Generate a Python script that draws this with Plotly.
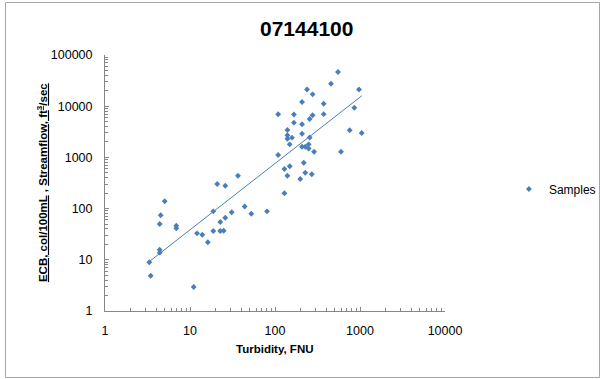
import numpy as np
import plotly.graph_objects as go

# Samples (Turbidity FNU vs ECB col/100mL)
turbidity = [3.32, 3.45, 4.40, 4.40, 4.40, 4.52, 5.04, 6.90, 6.90, 11.05,
             12.1, 13.95, 16.2, 18.8, 18.8, 20.9, 22.7, 22.7, 24.9, 26.0,
             26.0, 30.9, 36.7, 44.0, 52.6, 80.5, 109, 109, 129, 129,
             140, 140, 140, 158.5, 149, 149, 140, 167, 167, 198,
             208, 208, 208, 208, 227, 249, 249, 288, 218, 227,
             271, 238, 277, 256, 277, 256, 374, 374, 456, 551,
             857, 973, 756, 1047, 598]
ecb = [8.94, 4.89, 15.7, 13.8, 50.0, 74.0, 139, 46.4, 41.2, 2.94,
       32.9, 30.9, 22.0, 88.5, 36.5, 302, 54.7, 36.5, 37.0, 280,
       66.4, 84.7, 439, 110, 79.5, 88.5, 6950, 1114, 593, 199,
       3428, 2703, 2318, 2426, 1802, 670, 439, 6886, 4764, 378,
       12080, 4430, 2903, 1618, 1618, 1802, 1493, 1292, 788, 502,
       468, 21200, 17070, 5623, 6640, 2447, 11190, 6980, 27500, 46560,
       9310, 21200, 3398, 2998, 1292]

x_tickvals = [1, 10, 100, 1000, 10000]
x_ticktext = ["1", "10", "100", "1000", "10000"]
y_tickvals = [1, 10, 100, 1000, 10000, 100000]
y_ticktext = ["1", "10", "100", "1000", "10000", "100000"]

# power trendline fitted in log space
lx = np.log10(turbidity)
ly = np.log10(ecb)
b, a = np.polyfit(lx, ly, 1)
trend_x = np.array([min(turbidity), max(turbidity)])
trend_y = 10 ** (a + b * np.log10(trend_x))

blue = "#4a7ebb"
font_family = "Liberation Sans, Arial, sans-serif"

fig = go.Figure()
fig.add_trace(go.Scatter(
    x=turbidity, y=ecb, mode="markers", name="Samples",
    marker=dict(symbol="diamond", size=4.5, color=blue),
))
fig.add_trace(go.Scatter(
    x=trend_x, y=trend_y, mode="lines", showlegend=False,
    line=dict(color=blue, width=1), hoverinfo="skip",
))

axis_common = dict(
    type="log", showgrid=False, zeroline=False,
    showline=True, linecolor="#868686", linewidth=1,
    ticks="inside", ticklen=4, tickcolor="#868686",
    tickfont=dict(family=font_family, size=12.5, color="#000000"),
)

fig.update_xaxes(
    range=[0, 4], tickmode="array", tickvals=x_tickvals, ticktext=x_ticktext,
    ticklabelstandoff=8,
    minor=dict(dtick="D1", ticks="inside", ticklen=3, tickcolor="#868686"),
    **axis_common,
)
fig.update_yaxes(
    range=[0, 5], tickmode="array", tickvals=y_tickvals, ticktext=y_ticktext,
    ticklabelstandoff=9,
    minor=dict(dtick="D1", ticks="inside", ticklen=3, tickcolor="#868686"),
    **axis_common,
)

fig.update_layout(
    width=600, height=379,
    margin=dict(l=105, r=155, t=55, b=68, autoexpand=False),
    paper_bgcolor="white", plot_bgcolor="white",
    font=dict(family=font_family, color="#000000"),
    showlegend=True,
    legend=dict(x=1.188, y=0.4766, xanchor="left", yanchor="middle",
                font=dict(family=font_family, size=12, color="#000000"),
                bgcolor="rgba(0,0,0,0)", itemwidth=30),
    shapes=[dict(type="rect", xref="paper", yref="paper",
                 x0=-0.2926, x1=1.4544, y0=-0.2598, y1=1.2051,
                 line=dict(color="#a6a6a6", width=1), layer="below")],
    annotations=[
        dict(text="<b>07144100</b>", xref="paper", yref="paper",
             x=0.594, y=1.105, showarrow=False, xanchor="center", yanchor="middle",
             font=dict(family=font_family, size=21, color="#000000")),
        dict(text="<b>Turbidity, FNU</b>", xref="paper", yref="paper",
             x=0.5, y=-0.147, showarrow=False, xanchor="center", yanchor="middle",
             font=dict(family=font_family, size=11.5, color="#000000")),
        dict(text="<b><u>ECB, col/100mL</u> , <u>Streamflow, ft<sup>3</sup>/sec</u></b>",
             xref="paper", yref="paper", x=-0.185, y=0.5, textangle=-90,
             showarrow=False, xanchor="center", yanchor="middle",
             font=dict(family=font_family, size=11.5, color="#000000")),
    ],
)

fig.write_html(
    "out.html",
    config={"displayModeBar": False},
    post_script="document.body.style.margin='0';document.body.style.overflow='hidden';",
)
